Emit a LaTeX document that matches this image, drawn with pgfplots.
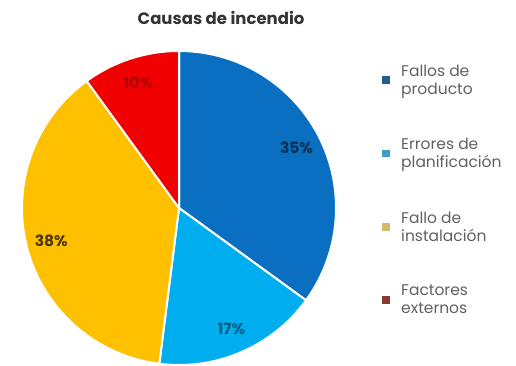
\documentclass[border=0pt]{standalone}
\usepackage{fontspec}
\setmainfont{Poppins}
\usepackage{pgfplots}
\usepackage{pgfplotstable}
\pgfplotsset{compat=1.18}
\definecolor{cBlue}{HTML}{0A6FC0}
\definecolor{cLight}{HTML}{00AEEF}
\definecolor{cYellow}{HTML}{FFC000}
\definecolor{cRed}{HTML}{F00000}
\definecolor{lgBlue}{HTML}{1D5F8A}
\definecolor{lgLight}{HTML}{3E9FC0}
\definecolor{lgYellow}{HTML}{D9B86A}
\definecolor{lgRed}{HTML}{8A3A2E}
\definecolor{titleText}{HTML}{333333}
\definecolor{lgText}{HTML}{606060}
\newcommand\labelfont{\bfseries\fontsize{15.5}{15.5}\selectfont}
\newcommand\legendfont{\fontsize{15.5}{18}\selectfont}
\pgfplotstableread{
value color opac
35 cBlue 0.55
17 cLight 0.45
38 cYellow 0.7
10 cRed 0.25
}\piedata
\begin{document}
\begin{tikzpicture}
\path[use as bounding box] (-179pt,-158pt) rectangle (337pt,208pt);
\begin{axis}[at={(0,0)}, anchor=center, scale only axis,
  width=314pt, height=314pt,
  xmin=-1, xmax=1, ymin=-1, ymax=1,
  hide axis, clip=false,
  title={Causas de incendio},
  title style={at={(axis description cs:0.634,1.086)}, anchor=center,
    font=\bfseries\fontsize{16.5}{16.5}\selectfont, text=titleText},
  legend image code/.code={\fill[#1, draw=none] (0pt,-3.5pt) rectangle (7.5pt,4pt); \path[draw=none, fill=none] (0pt,0pt) rectangle (17pt,0.1pt);},
  legend cell align=left,
  legend style={draw=none, fill=none,
    at={(axis description cs:1.137,0.97)}, anchor=north west,
    row sep=38.5pt,
    nodes={align=left, text=lgText, font=\legendfont}},
]
\addlegendimage{lgBlue}\addlegendentry{Fallos de\\producto}
\addlegendimage{lgLight}\addlegendentry{Errores de\\planificación}
\addlegendimage{lgYellow}\addlegendentry{Fallo de\\instalación}
\addlegendimage{lgRed}\addlegendentry{Factores\\externos}
\gdef\startang{90}
\pgfplotsforeachungrouped \i in {0,...,3}{%
  \pgfplotstablegetelem{\i}{value}\of\piedata
  \let\v\pgfplotsretval
  \pgfplotstablegetelem{\i}{color}\of\piedata
  \let\col\pgfplotsretval
  \pgfplotstablegetelem{\i}{opac}\of\piedata
  \let\op\pgfplotsretval
  \pgfmathsetmacro\endang{\startang-3.6*\v}
  \pgfmathsetmacro\midang{(\startang+\endang)/2}
  \pgfmathsetmacro\sx{cos(\startang)}
  \pgfmathsetmacro\sy{sin(\startang)}
  \pgfmathsetmacro\lx{0.84*cos(\midang)}
  \pgfmathsetmacro\ly{0.84*sin(\midang)}
  \edef\temp{\noexpand\fill[\col, draw=white, line width=2pt, line join=round] (axis cs:0,0) -- (axis cs:\sx,\sy) arc[start angle=\startang, end angle=\endang, radius=157pt] -- cycle;
    \noexpand\node[text=black, text opacity=\op, font=\noexpand\labelfont] at (axis cs:\lx,\ly) {\v\noexpand\%};}%
  \temp
  \global\let\startang\endang
}
\end{axis}
\end{tikzpicture}
\end{document}
